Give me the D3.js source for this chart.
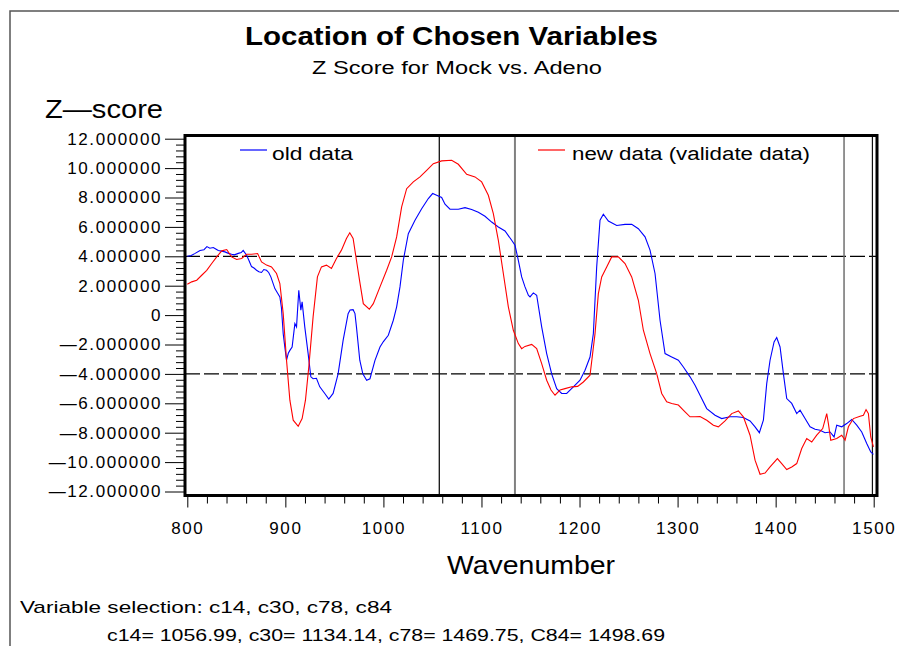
<!DOCTYPE html>
<html>
<head>
<meta charset="utf-8">
<script src="https://cdn.jsdelivr.net/npm/d3@7"></script>
<style>
body { margin: 0; background: #fff; }
svg text { font-family: "Liberation Sans", Arial, Helvetica, sans-serif; fill: #000; }
</style>
</head>
<body>
<script>
var width = 899;
var height = 646;

// old data (blue)
var oldWave = [800, 804, 808, 813, 817, 820, 823, 826.5, 829, 831.6, 835, 838.4, 842, 845.2, 848, 852, 855, 857, 860.5, 863,
  865.5, 868, 870.6, 873, 875.7, 878, 880.8, 883, 885.2, 889.3, 892, 894.4, 896, 897.8, 899.5, 901.2, 903, 904.6, 906.9, 909.7,
  911.4, 913.7, 915.8, 917.1, 919.8, 923.2, 926, 928.3, 931.7, 935.1, 940.2, 944.3, 948.7, 953.8, 958.9, 964, 966, 969.1, 971, 972.5,
  975.9, 979, 982.9, 986.3, 991.4, 996.5, 1000, 1005, 1010.1, 1013.5, 1016.9, 1020.3, 1025.4, 1032.2, 1039, 1045.8, 1050.2, 1054.3, 1059.4, 1062.8,
  1067.9, 1076.4, 1083.2, 1090, 1096.8, 1103.6, 1110.4, 1117.2, 1124, 1130.8, 1134.2, 1137.6, 1141, 1144.4, 1147.8, 1149.5, 1152.9, 1156.3, 1161.4, 1166.5,
  1171.6, 1176.7, 1181.8, 1186.9, 1193.7, 1200.5, 1205.6, 1210.7, 1214.1, 1217.5, 1220.9, 1224.3, 1229.4, 1237.9, 1246.4, 1253.2, 1260, 1266.8, 1271.9, 1277,
  1282.1, 1287.2, 1294, 1300.8, 1305.9, 1312.7, 1317.8, 1322.9, 1329.7, 1338.2, 1345, 1353.5, 1360.3, 1367.1, 1373.9, 1379, 1383.4, 1387.5, 1390.9, 1394.3,
  1398.4, 1401.1, 1404.5, 1407.9, 1411.3, 1416.4, 1421.5, 1424.9, 1430, 1435.1, 1440.2, 1445.3, 1450.4, 1455.5, 1459.6, 1462.3, 1467.4, 1472.5, 1477.6, 1482.7,
  1487.8, 1492.9, 1497, 1499.7];
var oldZ = [4.0, 4.05, 4.2, 4.4, 4.45, 4.66, 4.55, 4.6, 4.5, 4.4, 4.35, 4.3, 4.2, 4.14, 4.1, 4.2, 4.25, 4.4, 4.07, 3.7,
  3.3, 3.2, 3.05, 2.95, 2.9, 3.1, 3.05, 2.9, 2.6, 1.8, 1.5, 1.24, 0.5, -1.26, -2.2, -3.07, -2.6, -2.4, -2.17, -0.58,
  -0.8, 1.69, 0.33, 0.9, -0.8, -2.6, -4.2, -4.33, -4.3, -4.88, -5.33, -5.72, -5.33, -4.0, -1.72, 0.1, 0.35, 0.37, 0.1, -0.8,
  -3.07, -4.0, -4.44, -4.33, -3.08, -2.17, -1.8, -1.37, -0.35, 0.56, 1.92, 3.73, 5.54, 6.45, 7.24, 7.93, 8.27, 8.15, 8.0, 7.54,
  7.2, 7.2, 7.31, 7.18, 6.99, 6.72, 6.33, 5.99, 5.72, 5.09, 4.75, 3.73, 2.6, 1.92, 1.35, 1.24, 1.51, 1.35, -0.8, -2.62,
  -4.0, -5.0, -5.33, -5.33, -4.88, -4.43, -3.75, -2.85, -1.26, 3.28, 6.45, 6.86, 6.4, 6.1, 6.17, 6.17, 5.88, 5.32, 4.42, 2.83,
  -0.35, -2.62, -2.85, -3.07, -3.53, -4.2, -4.77, -5.45, -6.36, -6.81, -7.04, -6.92, -6.92, -6.97, -7.2, -7.6, -8.0, -7.15, -4.66, -3.07,
  -1.83, -1.53, -2.17, -3.98, -5.68, -6.01, -6.7, -6.47, -7.04, -7.6, -7.76, -7.83, -8.0, -7.95, -8.29, -7.49, -7.6, -7.38, -7.1, -7.49,
  -7.95, -8.74, -9.31, -9.47];

// new data (red)
var newWave = [800, 804.5, 809.6, 814.7, 819.8, 824.9, 830, 835.1, 840.2, 845.2, 850.3, 855.4, 860.5, 865.5, 871.7, 875.7, 880.8, 885.9, 891, 894.4,
  897.8, 901.2, 904.6, 908, 913.1, 917.1, 920.5, 923.9, 928.3, 932.7, 936.8, 941.9, 947, 952.1, 957.2, 962.3, 965.7, 969.1, 972.5, 975.9,
  979.5, 985.6, 989.7, 996.5, 1003.3, 1008.4, 1013.5, 1018.6, 1023.7, 1030.5, 1037.3, 1044.1, 1050.9, 1059.4, 1069.6, 1076.4, 1084.9, 1093.4, 1100.2, 1107,
  1112.1, 1117.2, 1122.3, 1127.4, 1132.5, 1137.6, 1141, 1144.4, 1151.2, 1156.3, 1161.4, 1166.5, 1170.9, 1175, 1180.1, 1185.2, 1192, 1198.1, 1203.9, 1210.7,
  1215.8, 1219.2, 1222.6, 1227.7, 1232.8, 1239.6, 1246.4, 1253.2, 1260, 1265.1, 1271.9, 1278.7, 1283.8, 1288.9, 1294, 1300.8, 1307.6, 1312.7, 1317.8, 1322.9,
  1329.7, 1336.5, 1341.6, 1348.4, 1355.2, 1362, 1367.1, 1373.9, 1379, 1384.1, 1389.2, 1394.3, 1401.8, 1406.2, 1411.3, 1416.4, 1421.5, 1426.6, 1431.7, 1436.8,
  1441.9, 1448, 1452.1, 1453.8, 1456.2, 1462.3, 1467.4, 1470.8, 1474.2, 1479.3, 1486.1, 1489.5, 1492.2, 1494.6, 1497, 1499.7];
var newZ = [2.1, 2.26, 2.37, 2.71, 3.05, 3.51, 3.96, 4.37, 4.46, 3.96, 3.78, 3.85, 4.14, 4.14, 4.19, 3.62, 3.4, 3.28, 2.83, 2.15,
  0.1, -3.07, -5.79, -7.15, -7.56, -7.04, -5.79, -3.53, -0.12, 2.6, 3.28, 3.4, 3.17, 3.85, 4.42, 5.21, 5.6, 5.21, 3.73, 2.26,
  0.78, 0.4, 0.78, 1.92, 3.05, 3.96, 5.32, 7.36, 8.6, 9.06, 9.4, 9.85, 10.3, 10.49, 10.53, 10.26, 9.58, 9.4, 9.06, 8.15,
  6.9, 5.09, 2.83, 0.56, -1.03, -1.94, -2.28, -2.13, -1.99, -2.28, -3.3, -4.43, -5.1, -5.45, -5.1, -5.0, -4.88, -4.85, -4.55, -4.09,
  -1.26, 1.46, 2.6, 3.28, 3.96, 3.96, 3.51, 2.6, 1.01, -1.03, -2.62, -3.98, -5.33, -5.9, -6.01, -6.12, -6.58, -6.92, -6.92, -6.9,
  -7.15, -7.49, -7.6, -7.2, -6.7, -6.52, -6.92, -8.17, -9.87, -10.83, -10.74, -10.33, -9.76, -10.1, -10.51, -10.33, -10.1, -9.08, -8.4, -8.63,
  -8.17, -7.72, -6.7, -7.38, -8.51, -8.4, -8.17, -8.51, -7.6, -7.04, -6.88, -6.81, -6.43, -6.7, -8.29, -8.97];

var chosenNames = ['c14', 'c30', 'c78', 'C84'];
var chosenWave = [1056.99, 1134.14, 1469.75, 1498.69];
var cutoffs = [4, -4];
var xTicks = [800, 900, 1000, 1100, 1200, 1300, 1400, 1500];
var yTicks = [-12, -10, -8, -6, -4, -2, 0, 2, 4, 6, 8, 10, 12];

var svg = d3.select('body').append('svg')
  .attr('width', width)
  .attr('height', height);

var x = d3.scaleLinear().domain([800, 1500]).range([187.3, 873.7]);
var y = d3.scaleLinear().domain([-12, 12]).range([491.5, 138.7]);

var frame = {left: 185, right: 877, top: 135.5, bottom: 495.5};

// page border (top and left only)
svg.append('path')
  .attr('d', 'M10,' + height + 'V11H' + width)
  .attr('fill', 'none')
  .attr('stroke', '#555')
  .attr('stroke-width', 1.5);

function label(txt, x0, y0, size, len, weight) {
  return svg.append('text')
    .attr('x', x0)
    .attr('y', y0)
    .attr('font-size', size)
    .attr('font-weight', weight || 'normal')
    .attr('textLength', len)
    .attr('lengthAdjust', 'spacingAndGlyphs')
    .text(txt);
}

label('Location of Chosen Variables', 245, 45, 25, 413, 'bold');
label('Z Score for Mock vs. Adeno', 312, 74, 18, 290);
label('Z\u2014score', 45, 118, 26, 118);
label('Wavenumber', 447, 574, 26, 168);
label('Variable selection: ' + chosenNames.slice(0, 3).join(', ') + ', c84', 20, 613, 17, 372);
label(chosenNames.map(function(n, i) { return n + '= ' + chosenWave[i].toFixed(2); }).join(',  '), 107, 641, 17, 558);

// cutoff lines
svg.selectAll('line.cut').data(cutoffs)
  .enter().append('line')
    .attr('class', 'cut')
    .attr('x1', frame.left)
    .attr('x2', frame.right)
    .attr('y1', function(d) { return y(d); })
    .attr('y2', function(d) { return y(d); })
    .attr('stroke', '#000')
    .attr('stroke-width', 1.2)
    .attr('stroke-dasharray', '15,4');

// chosen variable lines
var refColor = ['#111', '#808080', '#666', '#111'];
var refWidth = [1.3, 2, 1.4, 1.2];
svg.selectAll('line.ref').data(chosenWave)
  .enter().append('line')
    .attr('class', 'ref')
    .attr('x1', function(d) { return x(d); })
    .attr('x2', function(d) { return x(d); })
    .attr('y1', frame.top)
    .attr('y2', frame.bottom)
    .attr('stroke', function(d, i) { return refColor[i]; })
    .attr('stroke-width', function(d, i) { return refWidth[i]; });

var line = d3.line()
  .x(function(d) { return x(d[0]); })
  .y(function(d) { return y(d[1]); });

svg.append('path')
  .datum(d3.zip(oldWave, oldZ))
  .attr('d', line)
  .attr('fill', 'none')
  .attr('stroke', '#0000ff')
  .attr('stroke-width', 1.1);

svg.append('path')
  .datum(d3.zip(newWave, newZ))
  .attr('d', line)
  .attr('fill', 'none')
  .attr('stroke', '#ff0000')
  .attr('stroke-width', 1.1);

// legend
svg.append('line').attr('x1', 240).attr('x2', 267).attr('y1', 150).attr('y2', 150).attr('stroke', '#0000ff').attr('stroke-width', 1.2);
label('old data', 272, 160, 18, 81);
svg.append('line').attr('x1', 538).attr('x2', 565).attr('y1', 150).attr('y2', 150).attr('stroke', '#ff0000').attr('stroke-width', 1.2);
label('new data (validate data)', 572, 160, 18, 238);

// axes
function fmtY(d) {
  if (d === 0) return '0';
  return (d < 0 ? '\u2014' : '') + Math.abs(d).toFixed(6);
}

var yMinor = d3.range(0, 61).filter(function(i) { return i % 5 !== 0; }).map(function(i) { return -12 + i * 0.4; });
var xMinor = d3.range(800, 1501, 20).filter(function(d) { return d % 100 !== 0; });

var gyMinor = svg.append('g').attr('transform', 'translate(' + frame.left + ',0)')
  .call(d3.axisLeft(y).tickValues(yMinor).tickSize(9).tickFormat(''));
var gy = svg.append('g').attr('transform', 'translate(' + frame.left + ',0)')
  .call(d3.axisLeft(y).tickValues(yTicks).tickSize(20).tickPadding(3).tickFormat(fmtY));
var gxMinor = svg.append('g').attr('transform', 'translate(0,' + frame.bottom + ')')
  .call(d3.axisBottom(x).tickValues(xMinor).tickSize(8).tickFormat(''));
var gx = svg.append('g').attr('transform', 'translate(0,' + frame.bottom + ')')
  .call(d3.axisBottom(x).tickValues(xTicks).tickSize(12).tickPadding(14).tickFormat(d3.format('d')));

svg.selectAll('.domain').remove();
svg.selectAll('.tick line').attr('stroke', '#000').attr('stroke-width', 1);
svg.selectAll('.tick text')
  .attr('fill', '#000')
  .attr('font-size', 17)
  .attr('font-family', '"Liberation Sans", Arial, sans-serif')
  .attr('letter-spacing', 1.6);

// plot frame
svg.append('rect')
  .attr('x', frame.left)
  .attr('y', frame.top)
  .attr('width', frame.right - frame.left)
  .attr('height', frame.bottom - frame.top)
  .attr('fill', 'none')
  .attr('stroke', '#000')
  .attr('stroke-width', 3);
</script>
</body>
</html>
